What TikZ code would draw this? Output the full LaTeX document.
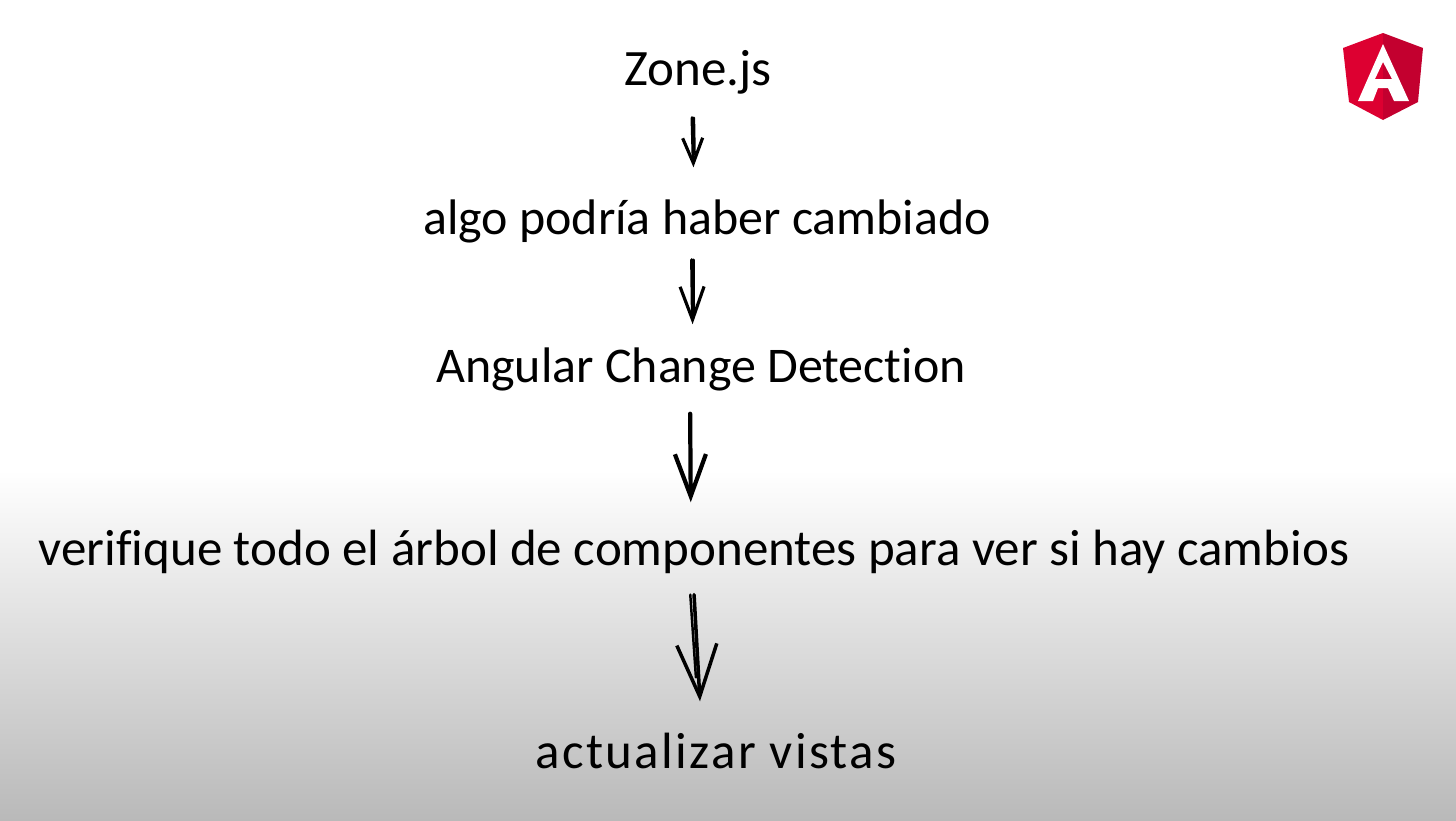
\documentclass[tikz,border=0pt]{standalone}
\usepackage{fontspec}
\setmainfont[Ligatures=NoCommon]{Carlito}
\usetikzlibrary{arrows.meta}
\definecolor{fadegray}{HTML}{B9B9B9}
\definecolor{ngred}{HTML}{DD0031}
\definecolor{ngdark}{HTML}{C3002F}
\tikzset{%
  hand/.style={anchor=base,inner sep=0,text height=.3cm,text depth=.1cm,text=black,font=\fontsize{#1}{18}\selectfont},
  shaft/.style={draw=black,line width=.7pt,line cap=round},
  sketch/.style={shaft,line width=.9pt}
}
\begin{document}
\begin{tikzpicture}[x=.01cm,y=-.01cm]
      \useasboundingbox (0,0) rectangle (1456,821);
      \fill[white] (0,0) rectangle (1456,470);
      \shade[top color=white,bottom color=fadegray] (0,470) rectangle (1456,821);
      \path
        (698,85) node (zone)[hand=14.5]{Zone.js}
        (707,235) node (algo)[hand=14.2]{algo podría haber cambiado}
        (701,382) node (cd)[hand=14.2]{Angular Change Detection}
        (694,565) node (tree)[hand=14.5]{verifique todo el árbol de componentes para ver si hay cambios}
        (716,768) node (view)[hand=14.5]{\addfontfeature{LetterSpace=4.6}actualizar vistas};
      \draw[sketch,-{Straight Barb[length=.25cm,width=.2cm]},shorten <=.22cm,shorten >=.37cm]
        ([xshift=-.065cm]zone.south) -- ([xshift=-.125cm]algo.north);
      \draw[shaft,shorten <=.22cm,shorten >=.5cm]
        ([xshift=-.045cm]zone.south) -- ([xshift=-.115cm]algo.north);
      \draw[sketch,-{Straight Barb[length=.33cm,width=.24cm]},shorten <=.14cm,shorten >=.27cm]
        ([xshift=-.155cm]algo.south) -- ([xshift=-.08cm]cd.north);
      \draw[shaft,shorten <=.14cm,shorten >=.4cm]
        ([xshift=-.135cm]algo.south) -- ([xshift=-.07cm]cd.north);
      \draw[sketch,line width=1.2pt,-{Straight Barb[length=.42cm,width=.31cm]},shorten <=.21cm,shorten >=.32cm]
        ([xshift=-.11cm]cd.south) -- ([xshift=-.03cm]tree.north);
      \draw[sketch,line width=1pt,-{Straight Barb[length=.52cm,width=.4cm]},shorten <=.19cm,shorten >=.36cm]
        ([xshift=-.01cm]tree.south) -- ([xshift=-.14cm]view.north);
      \draw[shaft,shorten <=.19cm,shorten >=.6cm]
        ([xshift=-.05cm]tree.south) -- ([xshift=-.16cm]view.north);
      % shield
      \fill[ngred] (1383,33) -- (1343,48) -- (1349,102) -- (1383,120) -- cycle;
      \fill[ngdark] (1383,33) -- (1423,48) -- (1418,102) -- (1383,120) -- cycle;
      \fill[white,even odd rule] (1383,44) -- (1358,101) -- (1373,101) -- (1378,88) -- (1388,88) -- (1394,101) -- (1409,101) -- cycle
        (1383,62) -- (1375,79) -- (1392,79) -- cycle;
    \end{tikzpicture}
\end{document}
